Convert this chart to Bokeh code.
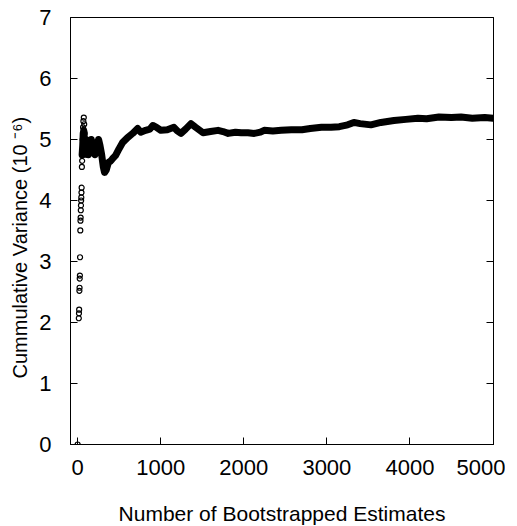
from bokeh.plotting import figure
from bokeh.models import LinearAxis, FixedTicker, Range1d
from bokeh.embed import file_html
from bokeh.resources import INLINE

# Early individual estimates (open circles)
early_n = [1, 15, 17, 19, 22, 24, 26, 28, 30, 33, 35, 37, 39, 41, 43, 45, 47, 49,
           52, 55, 58, 62, 66, 70, 75, 80, 85, 90, 95]
early_v = [0.0, 2.07, 2.15, 2.21, 2.52, 2.57, 2.72, 2.77, 3.07, 3.51, 3.67, 3.72, 3.84,
           3.92, 4.0, 4.05, 4.13, 4.21, 4.55, 4.65, 4.8, 5.0, 5.2, 5.3, 5.36, 5.25,
           5.1, 4.9, 4.75]

# Cumulative variance curve
curve_n = [55, 62, 68, 75, 82, 90, 100, 110, 120, 130, 140, 150, 165, 180, 195, 210,
           230, 253, 270, 290, 310, 325, 345, 370, 400, 430, 458, 500, 542, 600, 663,
           723, 761, 819, 870, 906, 950, 1002, 1080, 1159, 1200, 1244, 1300, 1365,
           1420, 1510, 1600, 1691, 1750, 1812, 1900, 1969, 2050, 2126, 2200, 2246,
           2350, 2450, 2572, 2700, 2800, 2935, 3050, 3150, 3250, 3325, 3400, 3530,
           3650, 3807, 3950, 4096, 4200, 4349, 4500, 4614, 4750, 4900, 5000]
curve_v = [4.75, 4.9, 5.1, 5.15, 5.0, 4.85, 5.0, 4.8, 4.95, 4.75, 4.95, 4.8, 5.0, 4.8,
           4.95, 4.75, 4.85, 5.0, 4.9, 4.75, 4.55, 4.46, 4.5, 4.62, 4.65, 4.7, 4.74,
           4.85, 4.95, 5.03, 5.1, 5.18, 5.12, 5.15, 5.17, 5.23, 5.2, 5.15, 5.16, 5.2,
           5.14, 5.1, 5.17, 5.26, 5.2, 5.11, 5.13, 5.15, 5.13, 5.1, 5.12, 5.11, 5.11,
           5.10, 5.12, 5.15, 5.14, 5.15, 5.16, 5.16, 5.18, 5.2, 5.2, 5.21, 5.24, 5.28,
           5.26, 5.24, 5.28, 5.31, 5.33, 5.35, 5.34, 5.37, 5.36, 5.37, 5.35, 5.36, 5.35]

x_ticks = [0, 1000, 2000, 3000, 4000, 5000]
y_ticks = [0, 1, 2, 3, 4, 5, 6, 7]

FONT = "Liberation Sans"

p = figure(frame_width=423, frame_height=427,
           x_range=Range1d(-85, 5005), y_range=Range1d(0, 7),
           output_backend="svg", toolbar_location=None,
           min_border_left=70, min_border_top=17, min_border_right=12,
           min_border_bottom=74)
p.background_fill_color = "white"
p.border_fill_color = "white"
p.grid.visible = False
p.outline_line_color = "black"
p.outline_line_width = 1

p.line(curve_n, curve_v, line_color="black", line_width=7, line_join="round",
       line_cap="round")
p.scatter(early_n, early_v, marker="circle", size=5, fill_alpha=0,
          line_color="black", line_width=1.2)

for ax in (p.xaxis[0], p.yaxis[0]):
    ax.major_tick_in = 7
    ax.major_tick_out = 0
    ax.minor_tick_in = 0
    ax.minor_tick_out = 0
    ax.major_label_text_font = FONT
    ax.major_label_text_font_size = "22px"
    ax.major_label_text_color = "black"
    ax.axis_label_text_font = FONT
    ax.axis_label_text_font_style = "normal"
    ax.axis_label_text_color = "black"
    ax.axis_line_color = "black"
    ax.major_tick_line_color = "black"

p.xaxis[0].axis_label_text_font_size = "21px"
p.yaxis[0].axis_label_text_font_size = "20px"
p.xaxis[0].ticker = FixedTicker(ticks=x_ticks)
p.yaxis[0].ticker = FixedTicker(ticks=y_ticks)
p.xaxis[0].axis_label = "Number of Bootstrapped Estimates"
p.yaxis[0].axis_label = "Cummulative Variance (10 \u207b\u2076)" + "\u00a0" * 6
p.xaxis[0].major_label_standoff = 15
p.xaxis[0].axis_label_standoff = 24
p.yaxis[0].major_label_standoff = 19
p.yaxis[0].axis_label_standoff = 5

right = LinearAxis(ticker=FixedTicker(ticks=y_ticks), major_tick_in=7,
                   major_tick_out=0, minor_tick_in=0, minor_tick_out=0,
                   major_label_overrides={t: "" for t in y_ticks},
                   major_label_standoff=0,
                   axis_line_color="black", major_tick_line_color="black")
p.add_layout(right, "right")

open("out.html", "w").write(file_html(p, INLINE))
